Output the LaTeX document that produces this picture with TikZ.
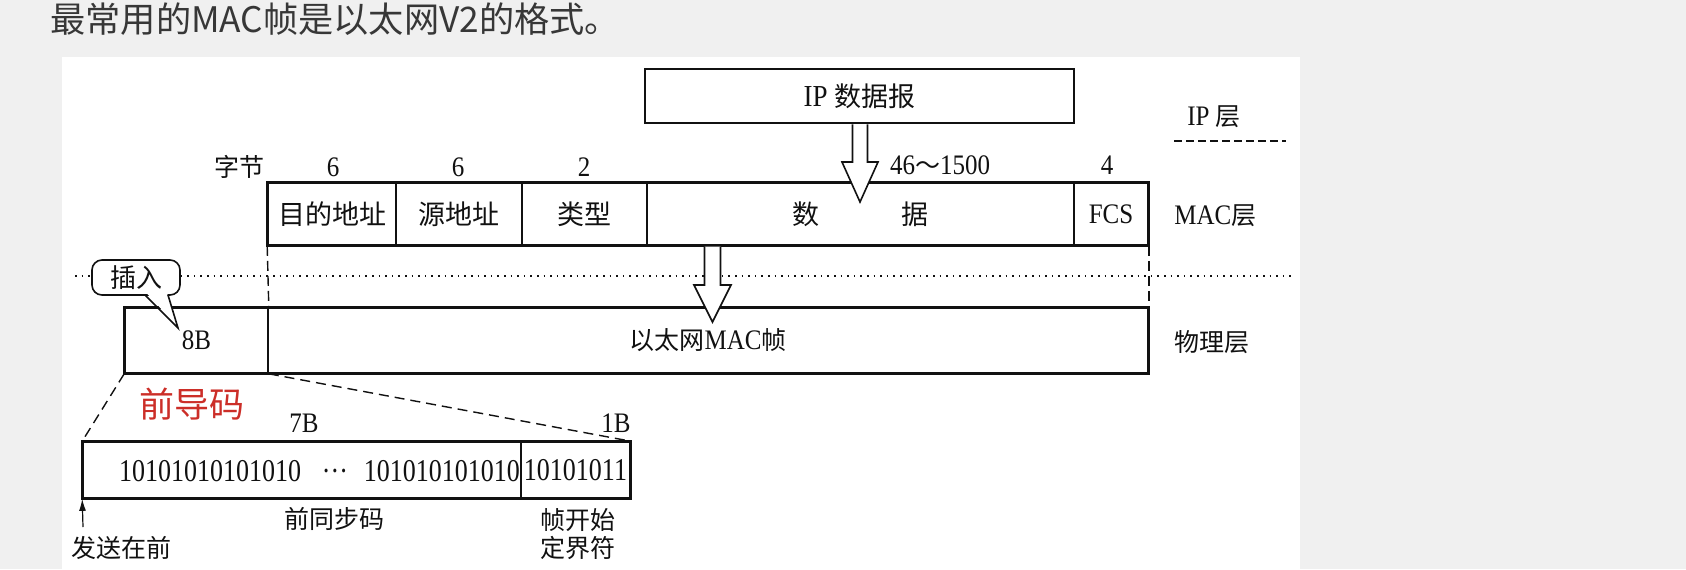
\documentclass[tikz,border=0pt]{standalone}
\usepackage{fontspec}
\usepackage{graphicx}
\setmainfont{Liberation Serif}
\newfontfamily\zh{Noto Sans CJK SC}
\usetikzlibrary{arrows.meta,calc}
\definecolor{bggray}{RGB}{240,240,240}
\definecolor{titlegray}{RGB}{55,55,55}
\definecolor{prered}{RGB}{204,46,40}
\definecolor{ink}{RGB}{17,17,17}
\newcommand{\zt}[1]{{\zh #1}}
\newcommand{\mystretch}[1]{\scalebox{1}[1.13]{#1}}
\newcommand{\mystretchb}[1]{\scalebox{1}[1.22]{#1}}
\begin{document}
\begin{tikzpicture}[x=0.5pt,y=-0.5pt,
  every node/.style={text=ink, inner sep=0pt},
  lbl/.style={font=\fontsize{12.5}{14}\selectfont},
  big/.style={font=\fontsize{13.5}{16}\selectfont},
  cellbox/.style={draw=ink, line width=0.8pt, inner sep=0pt},
  outerframe/.style={draw=ink, line width=1.4pt},
  blockarrow/.style={draw=ink, fill=white, line width=0.8pt, line join=miter},
  vdash/.style={draw=ink, line width=0.7pt, dash pattern=on 5pt off 2.5pt},
  sdash/.style={draw=ink, line width=0.7pt, dash pattern=on 5pt off 3pt},
  dotline/.style={draw=ink, line width=0.8pt, dash pattern=on 0.8pt off 2.5pt},
  ]
\useasboundingbox (0,0) rectangle (1686,569);
\fill[bggray] (0,0) rectangle (1686,569);
\fill[white] (62,57) rectangle (1300,569);

% title
\node[anchor=west, text=titlegray, font=\zh\fontsize{17.6}{20}\selectfont] (title) at (50,19) {最常用的MAC帧是以太网V2的格式。};

% IP datagram
\node[draw=ink, line width=1.3pt, minimum width=214.5pt, minimum height=27pt, big] (ip) at (859.5,96) {\mystretch{IP} \zt{数据报}};

% layer labels
\node[lbl, anchor=west] (iplayer) at (1187,117) {\mystretch{IP} \zt{层}};
\coordinate (sepL) at (1174,141);
\coordinate (sepR) at (1286,141);
\draw[draw=ink, line width=0.7pt, dash pattern=on 4pt off 2pt] (sepL) -- (sepR);
\node[lbl, anchor=west] (maclayer) at (1174,216) {\mystretch{MAC}\zt{层}};
\node[lbl, anchor=west] (phylayer) at (1174,342) {\zt{物理层}};

% byte counts
\node[lbl] (bytes) at (239,167) {\zt{字节}};
\node[lbl] (b6a) at (333,167) {\mystretch{6}};
\node[lbl] (b6b) at (458,167) {\mystretch{6}};
\node[lbl] (b2) at (584,167) {\mystretch{2}};
\node[lbl] (b46) at (940,165) {\mystretch{46}\zt{～}\mystretch{1500}};
\node[lbl] (b4) at (1107,165) {\mystretch{4}};

% MAC frame
\node[cellbox, minimum width=64pt, minimum height=31pt, big] (dst) at (332,214) {\zt{目的地址}};
\node[cellbox, minimum width=63pt, minimum height=31pt, big] (src) at (459,214) {\zt{源地址}};
\node[cellbox, minimum width=62.5pt, minimum height=31pt, big] (typ) at (584.5,214) {\zt{类型}};
\node[cellbox, minimum width=213.5pt, minimum height=31pt, big] (dat) at (860.5,214) {\zt{数\hspace{41pt}据}};
\node[cellbox, minimum width=37pt, minimum height=31pt, lbl] (fcs) at (1111,214) {\mystretch{FCS}};
\draw[outerframe] (dst.north west) rectangle (fcs.south east);

% physical layer frame
\node[cellbox, minimum width=71.5pt, minimum height=32.5pt, lbl] (pre8) at (196.5,340.5) {\mystretch{8B}};
\node[cellbox, minimum width=440pt, minimum height=32.5pt, lbl] (macf) at (708,340.5) {\zt{以太网}\mystretch{MAC}\zt{帧}};
\draw[outerframe] (pre8.north west) rectangle (macf.south east);

% dotted layer separator
\coordinate (dotL) at (75,276);
\coordinate (dotR) at (1295,276);
\draw[dotline] (dotL) -- (dotR);

% vertical dashed guides
\draw[vdash] (dst.south west) -- (pre8.north east);
\draw[vdash] (fcs.south east) -- (macf.north east);

% block arrows
\draw[blockarrow] (852.5,124.3) -- (852.5,162) -- (842,162) -- (860,202) -- (878,162) -- (867.5,162) -- (867.5,124.3);
\draw[blockarrow] (704.5,246.5) -- (704.5,285) -- (694,285) -- (712.5,322) -- (731,285) -- (720.5,285) -- (720.5,246.5);

% callout
\node[draw=ink, fill=white, line width=0.8pt, rounded corners=5pt, minimum width=44pt, minimum height=17.5pt, font=\fontsize{13}{15}\selectfont] (ins) at (136,277.5) {\zt{插入}};
\fill[white] (146.5,293) -- (177.5,326.5) -- (167,293) -- cycle;
\draw[draw=ink, line width=0.8pt, line join=miter] (145,295) -- (178,328) -- (168,295);

% preamble
\node[text=prered, font=\zh\fontsize{17.5}{20}\selectfont] (pream) at (192,404) {前导码};
\node[lbl] (l7b) at (304,423) {\mystretch{7B}};
\node[lbl] (l1b) at (616,423) {\mystretch{1B}};

\node[cellbox, minimum width=219pt, minimum height=28pt] (sync) at (302,470) {};
\node[cellbox, minimum width=54.5pt, minimum height=28pt, font=\fontsize{13}{15}\selectfont] (sfd) at (575.5,470) {\mystretchb{10101011}};
\draw[outerframe] (sync.north west) rectangle (sfd.south east);
\node[font=\fontsize{13}{15}\selectfont] (synctext) at (319.5,471) {\mystretchb{10101010101010\hspace{10.5pt}···\hspace{8pt}101010101010}};

\draw[sdash] (pre8.south west) -- (sync.north west);
\draw[sdash] (pre8.south east) -- (sfd.north east);

% bottom labels
\node[lbl] (syncl) at (334,519) {\zt{前同步码}};
\node[lbl, align=center] (sfdl) at (578,534) {\zt{帧开始}\\\zt{定界符}};
\node[lbl] (sendl) at (121,548) {\zt{发送在前}};
\coordinate (sendtail) at (83,527);
\draw[draw=ink, line width=0.6pt, -{Latex[length=6pt,width=3.5pt]}] (sendtail) -- (sync.south west);
\end{tikzpicture}
\end{document}
